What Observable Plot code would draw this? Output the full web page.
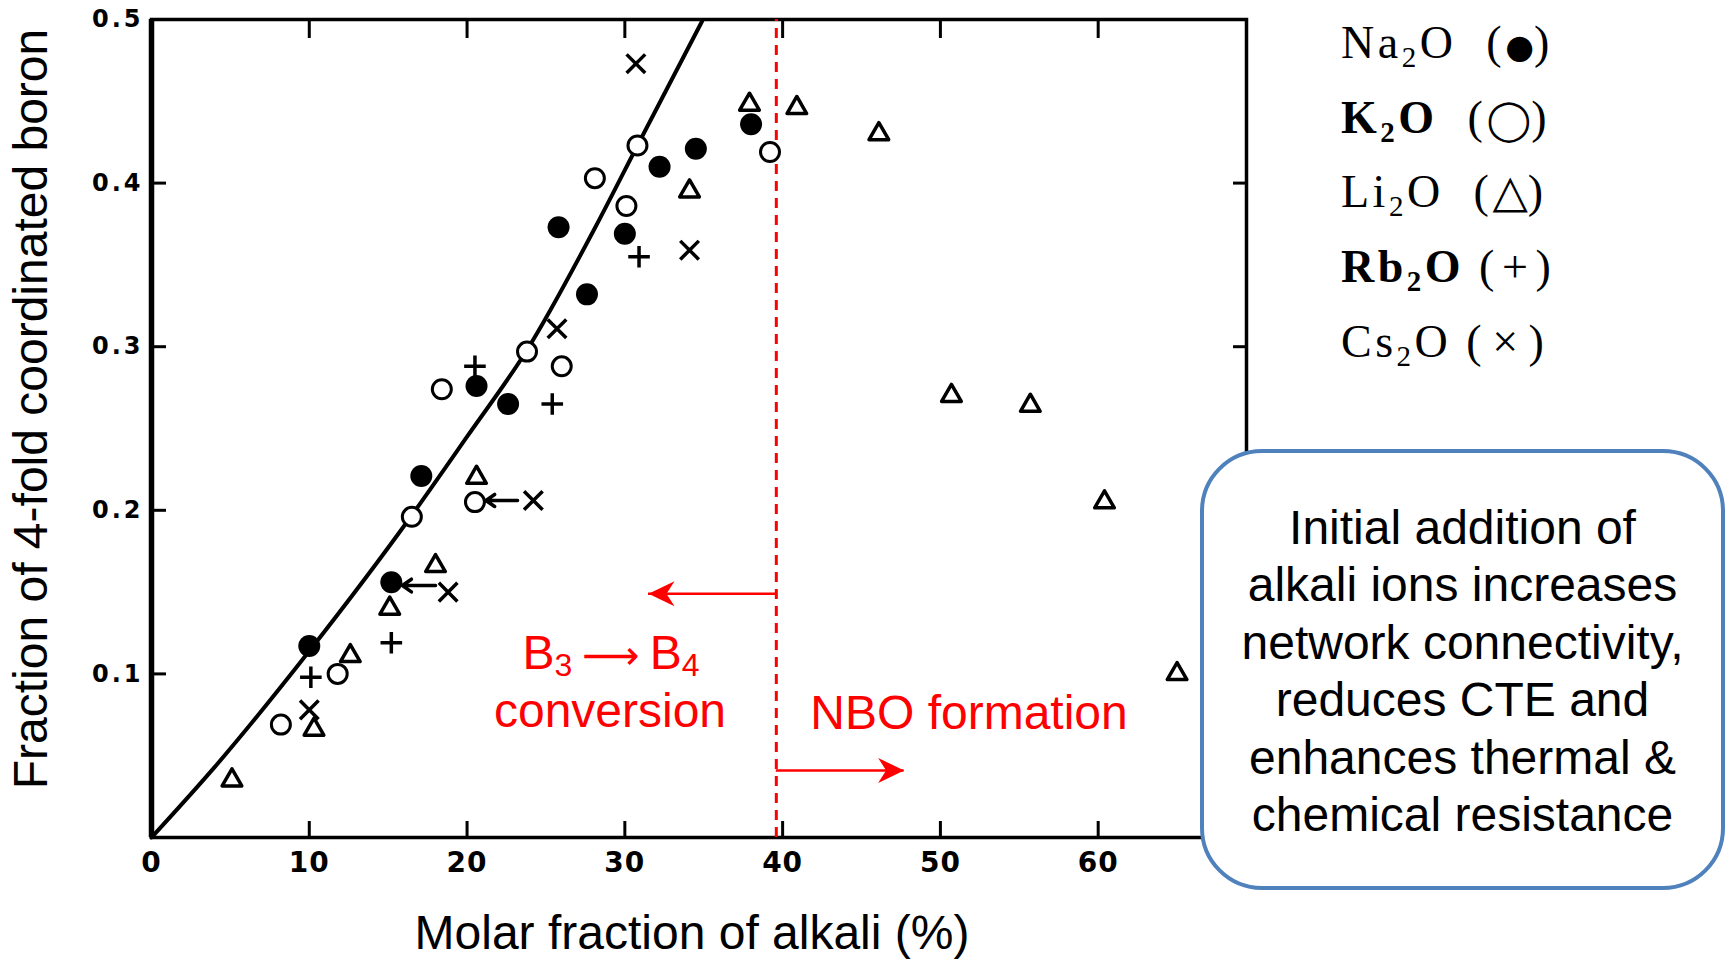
<!DOCTYPE html>
<html>
<head>
<meta charset="utf-8">
<script src="https://cdn.jsdelivr.net/npm/d3@7"></script>
<script src="https://cdn.jsdelivr.net/npm/@observablehq/plot@0.6"></script>
<style>
  html, body { margin: 0; padding: 0; background: #fff; }
  #wrap { position: relative; width: 1727px; height: 960px; overflow: hidden; background: #fff; }
  #chart { position: absolute; left: 0; top: 0; }
  .ov { position: absolute; white-space: nowrap; font-family: "Liberation Sans", Arial, sans-serif; font-size: 48px; line-height: 48px; color: #000; }
  .red { color: #ff0000; transform: translateX(-50%); }
  .rsub { font-size: 32px; position: relative; top: 7px; }
  .rarrow { font-family: "DejaVu Sans", sans-serif; font-size: 40px; margin: 0 10px; }
  #ytitle { left: 31px; top: 409px; transform: translate(-50%, -50%) rotate(-90deg); }
  #xtitle { left: 692px; top: 909px; transform: translateX(-50%); }
  #box { position: absolute; left: 1200px; top: 449px; width: 525px; height: 441px; box-sizing: border-box;
         border: 4px solid #4f81bd; border-radius: 62px; background: #fff; display: flex; align-items: center;
         justify-content: center; text-align: center; font-family: "Liberation Sans", Arial, sans-serif;
         font-size: 48px; line-height: 57.5px; color: #000; padding-top: 3px; }
  #legend { position: absolute; left: 1341px; top: 6px; font-family: "Liberation Serif", "Times New Roman", serif;
            font-size: 46px; letter-spacing: 3.5px; white-space: pre; color: #000; }
  #legend > div { height: 74.7px; line-height: 74.7px; }
  #legend .sub { font-size: 29px; position: relative; top: 9px; }
  #legend .sym { font-family: "DejaVu Sans", sans-serif; line-height: 0; letter-spacing: 0; }
  svg g[aria-label="y-axis tick label"] text { letter-spacing: 3px; }
  svg g[aria-label="x-axis tick label"] text { letter-spacing: 1px; }
</style>
</head>
<body>
<div id="wrap">
  <div id="chart"></div>
  <div class="ov" id="ytitle">Fraction of 4-fold coordinated boron</div>
  <div class="ov" id="xtitle">Molar fraction of alkali (%)</div>
  <div class="ov red" style="left:611px; top:629px;">B<span class="rsub">3</span><span class="rarrow">⟶</span>B<span class="rsub">4</span></div>
  <div class="ov red" style="left:610px; top:687px;">conversion</div>
  <div class="ov red" style="left:969px; top:689px;">NBO formation</div>
  <div id="legend"><div>Na<span class="sub">2</span>O  (<span class="sym" style="font-size:33px">●</span>)</div><div><b>K<span class="sub">2</span>O</b>  (<span class="sym" style="font-size:40px">◯</span>)</div><div>Li<span class="sub">2</span>O  (<span class="sym" style="font-size:46px">△</span>)</div><div><b>Rb<span class="sub">2</span>O</b> (<span style="margin:0 4px">+</span>)</div><div>Cs<span class="sub">2</span>O (<span style="margin:0 7px">×</span>)</div></div>
  <div id="box"><div>Initial addition of<br>alkali ions increases<br>network connectivity,<br>reduces CTE and<br>enhances thermal &amp;<br>chemical resistance</div></div>
</div>
<script>
// ---- Data ----
// Na2O (filled circles)
const naX = [10.0, 15.2, 17.1, 20.6, 22.6, 25.8, 27.6, 30.0, 32.2, 34.5, 38.0];
const naY = [0.117, 0.156, 0.221, 0.276, 0.265, 0.373, 0.332, 0.369, 0.410, 0.421, 0.436];
// K2O (open circles)
const kX = [8.2, 11.8, 16.5, 20.5, 18.4, 23.8, 26.0, 28.1, 30.1, 30.8, 39.2];
const kY = [0.069, 0.100, 0.196, 0.205, 0.274, 0.297, 0.288, 0.403, 0.386, 0.423, 0.419];
// Li2O (triangles)
const liX = [5.1, 10.3, 12.6, 15.1, 18.0, 20.6, 34.1, 37.9, 40.9, 46.1, 50.7, 55.7, 60.4, 65.0];
const liY = [0.035, 0.066, 0.111, 0.140, 0.166, 0.220, 0.395, 0.448, 0.446, 0.430, 0.270, 0.264, 0.205, 0.100];
// Rb2O (plus)
const rbX = [10.1, 15.2, 20.5, 25.4, 30.9];
const rbY = [0.098, 0.119, 0.288, 0.265, 0.355];
// Cs2O (times)
const csX = [10.0, 18.8, 24.2, 25.7, 34.1, 30.7];
const csY = [0.078, 0.150, 0.206, 0.311, 0.359, 0.473];
// Solid curve
const curveX = [0, 4.0, 10.0, 16.5, 20.0, 23.8, 28.4, 30.8, 34.9];
const curveY = [0, 0.043, 0.114, 0.197, 0.245, 0.298, 0.378, 0.423, 0.499];
// Small black arrows (from Cs point toward neighbour)
const smallArrowX1 = [23.2, 18.0];
const smallArrowX2 = [21.2, 15.9];
const smallArrowY = [0.206, 0.154];
// Boundary and red arrows
const boundaryX = 39.6;
const redArrowY = [0.149, 0.041];
const redArrowTipX = [31.5, 47.7];
// Ticks
const xTickVals = [10, 20, 30, 40, 50, 60];
const xLabelVals = [0, 10, 20, 30, 40, 50, 60];
const yTickVals = [0.1, 0.2, 0.3, 0.4];
const yLabelVals = [0.1, 0.2, 0.3, 0.4, 0.5];

const pts = (xs, ys) => xs.map((x, i) => ({x, y: ys[i]}));
const na = pts(naX, naY), k = pts(kX, kY), li = pts(liX, liY), rb = pts(rbX, rbY), cs = pts(csX, csY);
const curve = pts(curveX, curveY);
const smallArrows = smallArrowX1.map((x1, i) => ({x1, x2: smallArrowX2[i], y: smallArrowY[i]}));
const redArrows = redArrowY.map((y, i) => ({y, x1: boundaryX, x2: redArrowTipX[i], rot: redArrowTipX[i] < boundaryX ? 180 : 0}));

const headSymbol = {
  draw(ctx) {
    ctx.moveTo(0, 0);
    ctx.lineTo(-26, -12.5);
    ctx.lineTo(-18, 0);
    ctx.lineTo(-26, 12.5);
    ctx.closePath();
  }
};

const tickFont = "'DejaVu Sans', sans-serif";

const plot = Plot.plot({
  width: 1727,
  height: 960,
  marginLeft: 151,
  marginRight: 481,
  marginTop: 19,
  marginBottom: 123,
  style: {background: "transparent", overflow: "visible"},
  x: {domain: [0, 69.4]},
  y: {domain: [0, 0.5]},
  marks: [
    Plot.frame({stroke: "black", strokeWidth: 3.5}),
    Plot.ruleX([0], {stroke: "black", strokeWidth: 5.5}),
    Plot.axisX(xTickVals, {anchor: "bottom", tickSize: -16, tickFormat: () => "", strokeWidth: 3, label: null}),
    Plot.axisX(xTickVals, {anchor: "top", tickSize: -18, tickFormat: () => "", strokeWidth: 3, label: null}),
    Plot.axisY(yTickVals, {anchor: "left", tickSize: -15, tickFormat: () => "", strokeWidth: 3, label: null}),
    Plot.axisY(yTickVals, {anchor: "right", tickSize: -14, tickFormat: () => "", strokeWidth: 3, label: null}),
    Plot.axisX(xLabelVals, {anchor: "bottom", tickSize: 0, tickPadding: 15, fontSize: 28, fontWeight: "bold", fontFamily: tickFont, label: null, tickFormat: d => String(d)}),
    Plot.axisY(yLabelVals, {anchor: "left", tickSize: 0, tickPadding: 8, fontSize: 24, fontWeight: "bold", fontFamily: tickFont, label: null, tickFormat: d => d.toFixed(1)}),
    Plot.ruleX([boundaryX], {y1: 0, y2: 0.5, stroke: "#ff0000", strokeWidth: 3, strokeDasharray: "10,7"}),
    Plot.ruleY(redArrows, {y: "y", x1: "x1", x2: "x2", stroke: "#ff0000", strokeWidth: 2.5}),
    Plot.dot(redArrows, {x: "x2", y: "y", symbol: headSymbol, fill: "#ff0000", stroke: "none", rotate: "rot"}),
    Plot.line(curve, {x: "x", y: "y", stroke: "black", strokeWidth: 4, curve: "monotone-x"}),
    Plot.arrow(smallArrows, {x1: "x1", x2: "x2", y1: "y", y2: "y", stroke: "black", strokeWidth: 3.5, headLength: 10, headAngle: 70}),
    Plot.dot(na, {x: "x", y: "y", r: 11, fill: "black", stroke: "none"}),
    Plot.dot(k, {x: "x", y: "y", r: 9.5, fill: "white", stroke: "black", strokeWidth: 3}),
    Plot.dot(li, {x: "x", y: "y", symbol: "triangle", r: 7.3, fill: "white", stroke: "black", strokeWidth: 3.5, strokeLinejoin: "round"}),
    Plot.dot(rb, {x: "x", y: "y", symbol: "plus", r: 7, fill: "none", stroke: "black", strokeWidth: 3.5}),
    Plot.dot(cs, {x: "x", y: "y", symbol: "times", r: 8.5, fill: "none", stroke: "black", strokeWidth: 3.5})
  ]
});
document.getElementById("chart").appendChild(plot);
</script>
</body>
</html>
